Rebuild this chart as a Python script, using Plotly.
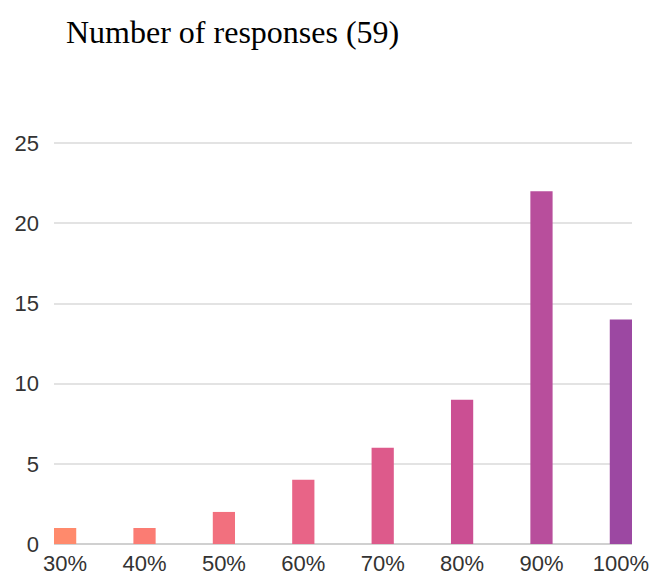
import plotly.graph_objects as go

categories = ["30%", "40%", "50%", "60%", "70%", "80%", "90%", "100%"]
values = [1, 1, 2, 4, 6, 9, 22, 14]
colors = ["#FF8A6C", "#FB7C73", "#F2707E", "#E86487", "#DD5A8B", "#CB4F93", "#B84E9C", "#9C48A2"]
y_ticks = [0, 5, 10, 15, 20, 25]

positions = list(range(len(categories)))

fig = go.Figure(go.Bar(
    x=positions, y=values, marker=dict(color=colors, line=dict(width=0)),
    width=0.28,
))

fig.update_layout(
    width=654, height=576,
    margin=dict(l=54, r=22, t=140, b=32, autoexpand=False),
    paper_bgcolor="white", plot_bgcolor="white",
    showlegend=False,
    title=dict(text="Number of responses (59)", x=66/654, xanchor="left", xref="container",
               y=1-32/576, yanchor="middle", yref="container",
               font=dict(family="Liberation Serif", size=32, color="#000000")),
    font=dict(family="Liberation Sans", size=22, color="#333333"),
)
fig.update_xaxes(
    tickmode="array", tickvals=positions, ticktext=categories,
    range=[-0.14, 7.14], showgrid=False, zeroline=False, showline=False,
    ticks="", ticklabelstandoff=4, tickfont=dict(size=22, color="#333333"), automargin=False,
)
fig.update_yaxes(
    range=[0, 25.2], tickvals=y_ticks, showgrid=True, gridcolor="#E3E3E3", gridwidth=1.5,
    zeroline=True, zerolinecolor="#D0D0D0", zerolinewidth=1.5,
    ticks="", ticklabelstandoff=14, tickfont=dict(size=22, color="#333333"), automargin=False,
)

fig.write_html("out.html")
